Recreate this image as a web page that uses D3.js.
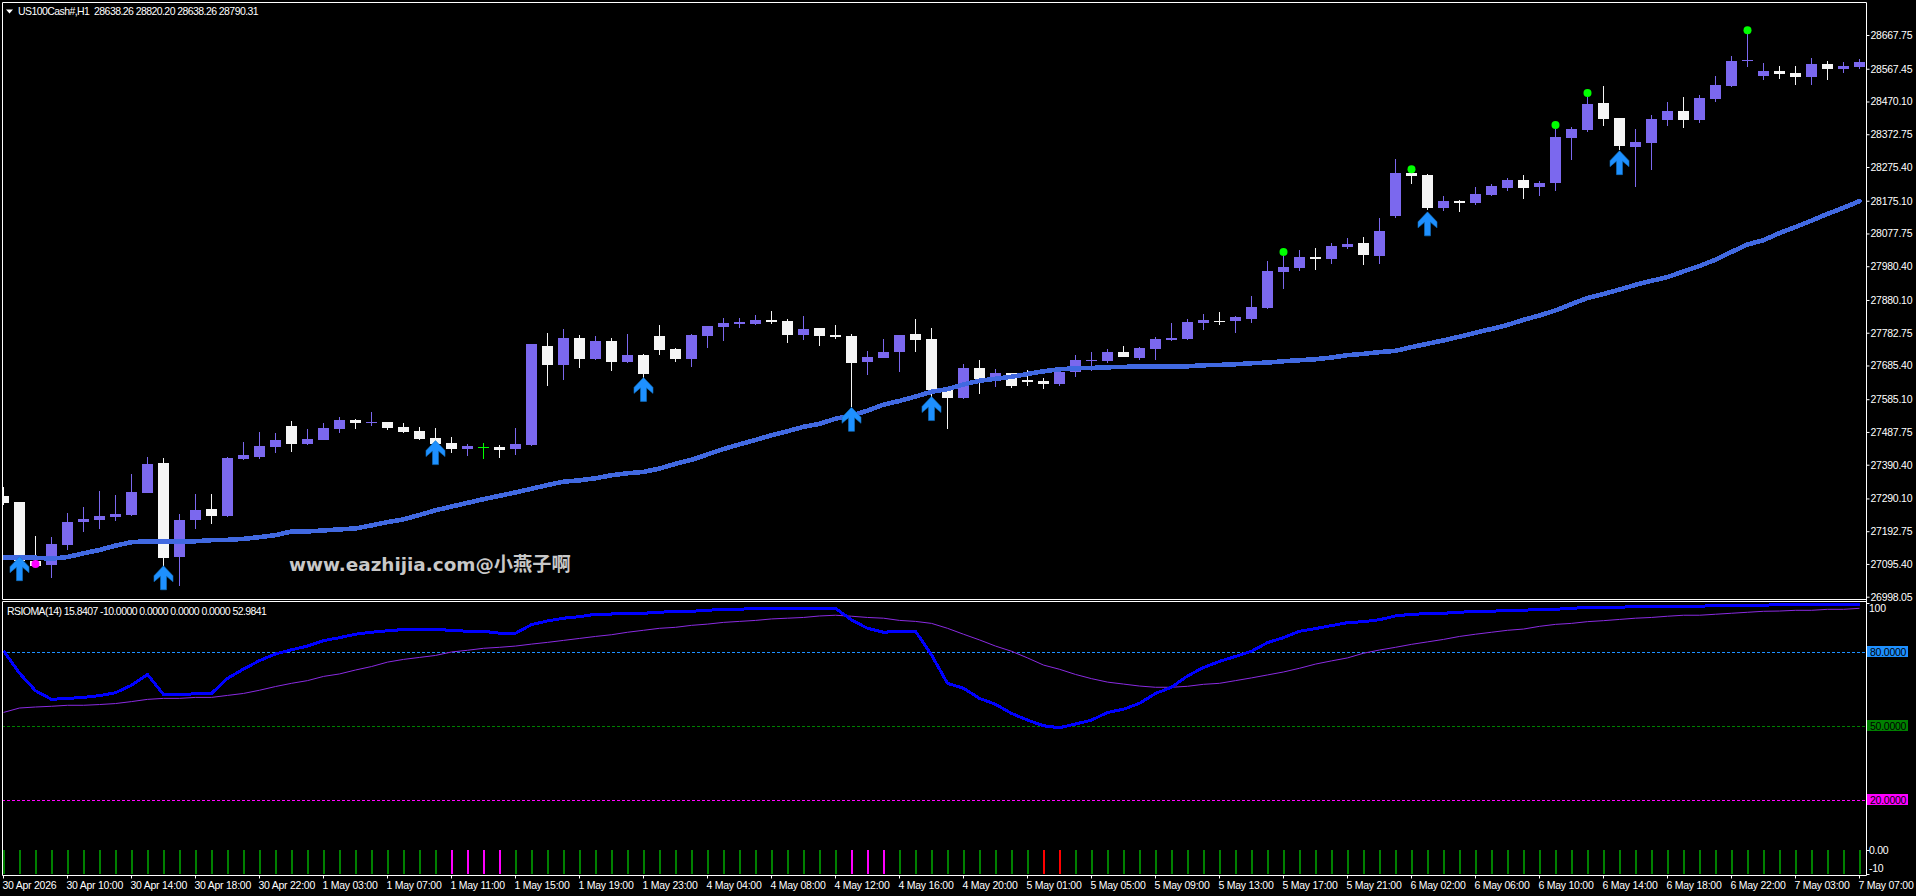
<!DOCTYPE html>
<html>
<head>
<meta charset="utf-8">
<title>US100Cash# H1</title>
<script src="https://d3js.org/d3.v7.min.js"></script>
<style>
html,body{margin:0;padding:0;background:#000;overflow:hidden}
svg{display:block}
.ui{font-family:"Liberation Sans",sans-serif;font-size:10.5px;letter-spacing:-.25px;fill:#fff}
.caption{letter-spacing:-.57px}
</style>
</head>
<body>
<svg id="chart" width="1916" height="896"></svg>
<script>
// Hourly candles, oldest first
const opens=[27297,27280,27104,27092,27152,27220,27226,27235,27241,27306,
27396,27116,27226,27259,27238,27407,27413,27443,27505,27452,
27464,27496,27523,27514,27517,27502,27491,27470,27455,27437,
27442,27443,27437,27449,27743,27687,27767,27705,27758,27696,
27717,27773,27735,27705,27773,27800,27809,27809,27821,27818,
27776,27797,27776,27773,27696,27708,27726,27779,27764,27613,
27589,27678,27639,27663,27642,27639,27630,27666,27699,27699,
27726,27708,27735,27761,27764,27812,27818,27818,27824,27856,
27963,27975,28008,28002,28038,28049,28011,28130,28258,28252,
28154,28174,28168,28192,28213,28237,28216,28228,28362,28385,
28466,28421,28335,28347,28415,28442,28415,28477,28516,28591,
28546,28560,28555,28543,28581,28566,28572];
const highs=[27323,27280,27178,27175,27246,27265,27312,27300,27363,27413,
27410,27244,27303,27303,27413,27458,27488,27485,27520,27496,
27514,27532,27527,27547,27517,27514,27502,27499,27473,27452,
27455,27449,27499,27749,27782,27794,27776,27773,27767,27779,
27720,27806,27738,27779,27803,27827,27827,27836,27848,27824,
27833,27797,27806,27779,27729,27764,27776,27824,27797,27618,
27690,27702,27675,27663,27672,27648,27677,27717,27726,27735,
27743,27740,27770,27812,27824,27838,27844,27833,27892,27996,
28011,28029,28035,28049,28064,28067,28124,28299,28260,28255,
28189,28177,28216,28225,28243,28252,28234,28388,28394,28483,
28516,28421,28388,28430,28469,28483,28489,28546,28605,28670,
28584,28575,28575,28599,28590,28587,28596];
const lows=[27271,27098,27085,27054,27137,27190,27199,27223,27238,27306,
27090,27030,27199,27214,27235,27404,27408,27425,27428,27450,
27464,27485,27496,27505,27494,27485,27464,27449,27425,27416,
27407,27410,27419,27447,27624,27642,27678,27702,27669,27693,
27648,27717,27696,27681,27738,27758,27797,27806,27809,27752,
27761,27743,27764,27561,27657,27708,27666,27726,27593,27497,
27586,27601,27622,27618,27624,27615,27624,27651,27669,27693,
27711,27702,27702,27758,27761,27791,27806,27782,27812,27853,
27913,27966,27969,27987,28032,27984,27987,28124,28225,28148,
28145,28142,28162,28189,28204,28180,28189,28204,28296,28379,
28397,28326,28216,28266,28397,28391,28406,28469,28513,28572,
28534,28537,28519,28519,28534,28555,28566];
const closes=[27277,27104,27090,27155,27220,27229,27238,27244,27309,27393,
27113,27226,27256,27238,27410,27419,27446,27464,27452,27467,
27499,27523,27514,27517,27499,27488,27467,27452,27437,27446,
27442,27435,27452,27749,27687,27767,27705,27758,27696,27717,
27660,27732,27705,27776,27803,27812,27815,27821,27815,27776,
27794,27773,27770,27693,27711,27726,27776,27761,27613,27589,
27678,27645,27663,27624,27636,27630,27666,27702,27702,27726,
27711,27738,27764,27767,27815,27821,27816,27829,27859,27966,
27978,28008,28002,28041,28046,28014,28085,28258,28249,28154,
28174,28168,28195,28219,28237,28213,28228,28365,28388,28463,
28418,28338,28350,28418,28442,28415,28481,28519,28590,28593,
28560,28552,28543,28581,28566,28575,28587];

// Moving average overlaid on the price pane
const maValues=[27114,27114,27114,27111,27116,27127,27137,27150,27160,27163,
27163,27163,27163,27166,27167,27170,27175,27181,27192,27192,
27195,27198,27201,27210,27220,27228,27241,27255,27266,27277,
27288,27298,27308,27319,27330,27340,27344,27350,27359,27365,
27369,27379,27393,27405,27421,27437,27451,27464,27478,27490,
27503,27512,27527,27537,27551,27569,27580,27593,27607,27615,
27629,27640,27646,27652,27660,27668,27674,27677,27678,27680,
27681,27683,27683,27683,27683,27686,27687,27689,27692,27694,
27698,27701,27704,27709,27716,27720,27725,27729,27740,27750,
27760,27771,27783,27794,27806,27821,27834,27849,27868,27886,
27898,27911,27925,27937,27948,27965,27981,28000,28023,28045,
28058,28079,28097,28116,28136,28154,28174];

// Signal markers: [bar index, price]
const arrowMarks=[[1,27117],[10,27090],[27,27462],[40,27650],[53,27561],[58,27593],[89,28142],[101,28324]];
const greenDots=[[80,28023],[88,28269],[97,28400],[99,28495],[109,28682]];
const magentaDots=[[2,27095]];

// RSIOMA sub-window
const rsiValues=[80.6,71.5,64.4,60.9,61.3,61.7,62.4,63.6,66.6,71.0,
62.9,62.7,63.2,63.3,69.4,73.2,76.6,79.3,81.0,82.5,
84.7,85.9,87.3,88.1,88.7,89.2,89.2,89.2,88.9,88.5,
88.5,87.7,87.7,91.2,92.7,93.8,94.4,95.4,95.5,95.6,
95.8,96.2,96.6,96.6,97.0,97.4,97.4,97.8,97.8,97.8,
97.8,97.8,97.8,93.1,89.7,88.1,88.5,88.5,78.9,67.4,
65.4,61.3,58.9,55.2,52.5,50.2,49.4,50.9,52.5,55.6,
56.9,59.3,63.3,65.8,70.4,73.8,76.3,78.3,80.4,83.9,
85.9,88.5,89.6,90.8,92.0,92.4,93.2,94.7,95.4,95.6,
95.8,96.2,96.6,96.6,97.0,97.0,97.4,97.4,97.8,98.2,
98.2,98.2,98.6,98.6,98.6,98.6,98.6,99.0,99.0,99.0,
99.0,99.4,99.4,99.4,99.4,99.4,99.4];
const signalValues=[55.6,57.4,57.8,58.1,58.5,58.5,58.8,59.2,60.0,60.9,
61.3,61.3,61.7,61.7,62.5,63.3,64.6,66.1,67.4,68.5,
70.2,71.2,72.8,74.2,76.0,77.1,77.9,78.7,80.1,80.8,
81.6,82.0,82.5,83.3,84.0,84.8,85.6,86.4,87.1,88.1,
88.9,89.7,90.1,90.9,91.4,92.1,92.5,92.9,93.5,93.8,
94.1,94.7,95.0,94.6,94.1,93.8,92.9,92.5,91.7,89.7,
87.3,85.0,82.5,80.4,77.7,74.8,73.1,71.0,69.3,67.9,
67.1,66.3,65.8,65.8,66.2,67.0,67.4,68.5,69.6,70.8,
72.0,73.5,75.2,76.5,77.7,79.6,80.9,82.0,83.2,84.2,
85.2,86.4,87.3,88.1,88.9,89.4,90.5,91.3,91.7,92.4,
92.8,93.3,93.8,94.1,94.6,95.0,95.0,95.4,95.8,96.2,
96.6,96.7,97.0,97.0,97.4,97.4,97.8];
const histogramFloor=-10;
const pinkBars=[28,29,30,31,53,54,55];
const redBars=[65,66];
const levels=[{v:80,c:"#1e90ff"},{v:50,c:"#008000"},{v:20,c:"#ff00ff"}];

// Axis labels
const priceTicks=[28667.75,28567.45,28470.10,28372.75,28275.40,28175.10,28077.75,27980.40,27880.10,27782.75,27685.40,27585.10,27487.75,27390.40,27290.10,27192.75,27095.40,26998.05];
const timeLabels=["30 Apr 2026","30 Apr 10:00","30 Apr 14:00","30 Apr 18:00","30 Apr 22:00","1 May 03:00","1 May 07:00","1 May 11:00","1 May 15:00","1 May 19:00","1 May 23:00","4 May 04:00","4 May 08:00","4 May 12:00","4 May 16:00","4 May 20:00","5 May 01:00","5 May 05:00","5 May 09:00","5 May 13:00","5 May 17:00","5 May 21:00","6 May 02:00","6 May 06:00","6 May 10:00","6 May 14:00","6 May 18:00","6 May 22:00","7 May 03:00","7 May 07:00"];
const subTicks=[{t:"100",v:100},{t:"0.00",v:0},{t:"-10",v:-10}];

const bars=opens.map((o,i)=>({i,o,h:highs[i],l:lows[i],c:closes[i]}));

// Frame geometry
const L=2,R=1866,T=2,mainB=599,subT=601,subB=875;
const svg=d3.select("#chart");
svg.append("rect").attr("width",1916).attr("height",896).attr("fill","#000");

const x=d3.scaleLinear().domain([0,116]).range([3,1859]);
const y=d3.scaleLinear().domain([26988.24,28771.8]).range([600,0]);
const yS=d3.scaleLinear().domain([-10.29,100.77]).range([875,601]);
const px=v=>Math.round(y(v));

const defs=svg.append("defs");
defs.append("clipPath").attr("id","mainClip").append("rect").attr("x",L+1).attr("y",T+1).attr("width",R-L-1).attr("height",mainB-T-1);
defs.append("clipPath").attr("id","subClip").append("rect").attr("x",L+1).attr("y",subT+1).attr("width",R-L-1).attr("height",subB-subT-1);

const tone=d=>d.c>d.o?"#7b68ee":d.c<d.o?"#f5f5f5":"#00ff00";

// Price pane
const main=svg.append("g").attr("clip-path","url(#mainClip)");
const candle=main.append("g").selectAll("g").data(bars).join("g").attr("fill",tone);
candle.append("rect")
  .attr("x",d=>Math.round(x(d.i))).attr("width",1)
  .attr("y",d=>px(d.h)).attr("height",d=>Math.max(1,px(d.l)-px(d.h)));
candle.append("rect")
  .attr("x",d=>Math.round(x(d.i))-5).attr("width",11)
  .attr("y",d=>px(Math.max(d.o,d.c)))
  .attr("height",d=>Math.max(1,px(Math.min(d.o,d.c))-px(Math.max(d.o,d.c))));

const maLine=d3.line().x((d,i)=>x(i)+.5).y(d=>y(d));
main.append("path").datum(maValues).attr("d",maLine).attr("fill","none")
  .attr("stroke","#4169e1").attr("stroke-width",4.6).attr("stroke-linejoin","round").attr("stroke-linecap","round")
  .attr("shape-rendering","crispEdges");

const arrowShape="M0,0L9.5,10L9.5,16L3,10.5L3,24L-3,24L-3,10.5L-9.5,16L-9.5,10Z";
main.append("g").selectAll("path").data(arrowMarks).join("path")
  .attr("d",arrowShape)
  .attr("transform",d=>`translate(${x(d[0])+.5},${y(d[1])})`)
  .attr("fill","#1e90ff").attr("stroke","#1070c0").attr("stroke-width",.6);

const dot=(rows,color)=>main.append("g").selectAll("circle").data(rows).join("circle")
  .attr("cx",d=>x(d[0])+.5).attr("cy",d=>y(d[1])).attr("r",4).attr("fill",color);
dot(greenDots,"#00ff00");
dot(magentaDots,"#ff00ff");

const mark=main.append("text").attr("x",289).attr("y",571)
  .attr("font-family",'"DejaVu Sans","Noto Sans CJK SC",sans-serif').attr("font-weight","bold")
  .attr("font-size",18.4).attr("fill","#c8c8c8");
mark.append("tspan").text("www.eazhijia.com@");
mark.append("tspan").attr("font-size",19.2).text("小燕子啊");

// RSIOMA pane
const sub=svg.append("g").attr("clip-path","url(#subClip)");
levels.forEach(l=>{
  sub.append("line").attr("x1",L).attr("x2",R).attr("y1",Math.round(yS(l.v))+.5).attr("y2",Math.round(yS(l.v))+.5)
    .attr("stroke",l.c).attr("stroke-dasharray","3 2");
});
sub.append("g").selectAll("rect").data(bars).join("rect")
  .attr("x",d=>Math.round(x(d.i))).attr("width",2)
  .attr("y",Math.round(yS(0))).attr("height",Math.round(yS(histogramFloor))-Math.round(yS(0)))
  .attr("fill",d=>redBars.includes(d.i)?"#ff0000":pinkBars.includes(d.i)?"#ff00ff":"#008000");
const rsiLine=d3.line().x((d,i)=>x(i)+.5).y(d=>yS(d));
sub.append("path").datum(signalValues).attr("d",rsiLine).attr("fill","none").attr("stroke","#8a2be2").attr("stroke-width",1);
sub.append("path").datum(rsiValues).attr("d",rsiLine).attr("fill","none").attr("stroke","#0000ff").attr("stroke-width",3).attr("stroke-linejoin","round").attr("shape-rendering","crispEdges");

// Window frame
const frame=svg.append("g").attr("stroke","#fff").attr("fill","none").attr("stroke-width",1);
[[L,T,R,T],[L,mainB,R,mainB],[L,subT,R,subT],[L,subB,R,subB],[L,T,L,mainB],[L,subT,L,subB],[R,T,R,subB]].forEach(s=>{
  frame.append("line").attr("x1",s[0]+.5).attr("y1",s[1]+.5).attr("x2",s[2]+.5).attr("y2",s[3]+.5);
});

// Price axis
const priceAxis=svg.append("g").attr("transform",`translate(${R+.5},0)`)
  .call(d3.axisRight(y).tickValues(priceTicks).tickFormat(d3.format(".2f")).tickSize(3).tickPadding(1));
priceAxis.select(".domain").remove();
priceAxis.selectAll("line").attr("stroke","#fff");
priceAxis.selectAll("text").attr("class","ui").attr("font-family",null).attr("font-size",null);

// Oscillator axis with the level tags
const subAxis=svg.append("g");
subTicks.forEach(t=>{
  const ty=Math.round(yS(t.v));
  subAxis.append("line").attr("x1",R+.5).attr("x2",R+3.5).attr("y1",ty+.5).attr("y2",ty+.5).attr("stroke","#fff");
  subAxis.append("text").attr("class","ui").attr("x",R+3).attr("y",Math.max(608,Math.min(868,ty))+4).text(t.t);
});
levels.forEach(l=>{
  const ly=Math.round(yS(l.v));
  subAxis.append("rect").attr("x",R+1).attr("y",ly-6).attr("width",41).attr("height",11).attr("fill",l.c);
  subAxis.append("text").attr("class","ui").style("fill","#000").attr("x",R+4).attr("y",ly+3.5).text(l.v.toFixed(4));
});

// Time axis: one label every four bars
const timeAxis=svg.append("g").attr("transform",`translate(0,${subB+.5})`)
  .call(d3.axisBottom(x).tickValues(timeLabels.map((_,k)=>k*4)).tickFormat((_,k)=>timeLabels[k]).tickSize(3).tickPadding(2));
timeAxis.select(".domain").remove();
timeAxis.selectAll("line").attr("stroke","#fff");
timeAxis.selectAll("text").attr("class","ui").attr("font-family",null).attr("font-size",null)
  .attr("text-anchor","start").attr("dx",-1).attr("y",6);

// Window captions
svg.append("path").attr("d","M6,9.5L13,9.5L9.5,13.5Z").attr("fill","#fff");
svg.append("text").attr("class","ui caption").attr("x",18).attr("y",14.5).attr("xml:space","preserve").text("US100Cash#,H1  28638.26 28820.20 28638.26 28790.31");
svg.append("text").attr("class","ui caption").attr("x",7).attr("y",614.5).text("RSIOMA(14) 15.8407 -10.0000 0.0000 0.0000 0.0000 52.9841");
</script>
</body>
</html>
